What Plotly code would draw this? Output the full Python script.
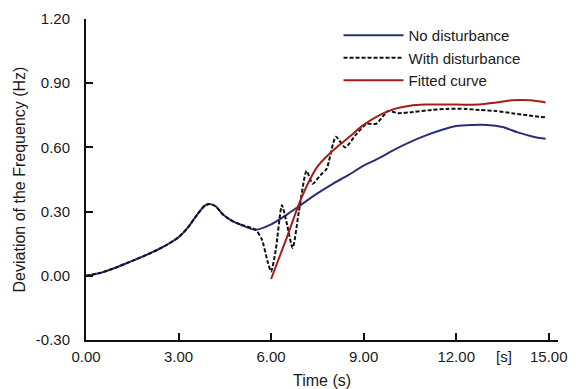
import plotly.graph_objects as go

# No disturbance
t_base = [0, 0.5, 1, 1.5, 2, 2.5, 3, 3.3, 3.6, 3.85, 4.0, 4.2, 4.45, 4.75, 5, 5.5,
          6, 6.5, 7, 7.5, 8, 8.5, 9, 9.5, 10, 10.5, 11, 11.5, 12, 12.5, 13, 13.5,
          14, 14.5, 14.9]
v_base = [0.0, 0.015, 0.04, 0.07, 0.10, 0.135, 0.18, 0.225, 0.285, 0.328, 0.336,
          0.325, 0.285, 0.255, 0.24, 0.215, 0.24, 0.285, 0.335, 0.385, 0.43, 0.47,
          0.515, 0.55, 0.59, 0.625, 0.655, 0.68, 0.70, 0.705, 0.705, 0.695, 0.67,
          0.65, 0.64]

# With disturbance
t_dist = [0, 0.5, 1, 1.5, 2, 2.5, 3, 3.3, 3.6, 3.85, 4.0, 4.2, 4.45, 4.75, 5, 5.5,
          5.7, 5.9, 6.0, 6.15, 6.35, 6.5, 6.7, 6.9, 7.15, 7.35, 7.6, 7.8, 8.1, 8.4,
          8.75, 9.1, 9.4, 9.8, 10.1, 10.6, 11.2, 11.7, 12.3, 12.75, 13.3, 13.8,
          14.3, 14.9]
v_dist = [0.0, 0.015, 0.04, 0.07, 0.10, 0.135, 0.18, 0.225, 0.285, 0.328, 0.336,
          0.325, 0.285, 0.255, 0.24, 0.215, 0.17, 0.06, 0.02, 0.12, 0.33, 0.25,
          0.13, 0.30, 0.49, 0.43, 0.47, 0.50, 0.65, 0.60, 0.66, 0.71, 0.71, 0.77,
          0.76, 0.765, 0.775, 0.78, 0.78, 0.775, 0.77, 0.76, 0.75, 0.74]

# Fitted curve
t_fit = [6.0, 6.5, 7.0, 7.5, 8.0, 8.5, 9.0, 9.5, 10.0, 10.5, 11.0, 12.0, 12.75,
         13.3, 13.8, 14.4, 14.9]
v_fit = [-0.015, 0.175, 0.37, 0.51, 0.585, 0.645, 0.705, 0.75, 0.78, 0.795, 0.80,
         0.80, 0.80, 0.81, 0.82, 0.82, 0.81]

x_ticks = [0, 3, 6, 9, 12, 15]
x_labels = ["0.00", "3.00", "6.00", "9.00", "12.00", "15.00"]
y_ticks = [-0.3, 0, 0.3, 0.6, 0.9, 1.2]
y_labels = ["-0.30", "0.00", "0.30", "0.60", "0.90", "1.20"]

FONT = "Liberation Sans, Arial, sans-serif"

fig = go.Figure()
fig.add_trace(go.Scatter(x=t_base, y=v_base, mode="lines", name="No disturbance",
                         line=dict(color="#2a2f78", width=2, shape="spline", smoothing=0.8)))
fig.add_trace(go.Scatter(x=t_dist, y=v_dist, mode="lines", name="With disturbance",
                         line=dict(color="#111111", width=2, dash="4px,2px",
                                   shape="spline", smoothing=0.6)))
fig.add_trace(go.Scatter(x=t_fit, y=v_fit, mode="lines", name="Fitted curve",
                         line=dict(color="#a51c1c", width=2, shape="spline", smoothing=0.8)))

# page body has an 8px default margin, so the figure is 8px smaller and shifted
fig.update_layout(
    width=573, height=381,
    margin=dict(l=78, r=23, t=11, b=49),
    paper_bgcolor="white", plot_bgcolor="white",
    font=dict(family=FONT, size=15, color="#1a1a1a"),
    showlegend=True,
    legend=dict(x=0.535, y=1.0, xanchor="left", yanchor="top",
                bgcolor="rgba(0,0,0,0)", font=dict(size=15), itemwidth=60,
                tracegroupgap=0),
    xaxis=dict(range=[0, 15.3], tickvals=x_ticks, ticktext=x_labels, automargin=False,
               showgrid=False, zeroline=False, showline=True, linecolor="#111",
               linewidth=2, ticks="inside", ticklen=7, tickwidth=2, tickcolor="#111",
               ticklabelstandoff=2,
               title=dict(text="Time (s)", font=dict(size=16), standoff=16)),
    yaxis=dict(range=[-0.3, 1.2], tickvals=y_ticks, ticktext=y_labels, automargin=False,
               showgrid=False, zeroline=False, showline=True, linecolor="#111",
               linewidth=2, ticks="inside", ticklen=7, tickwidth=2, tickcolor="#111",
               ticklabelstandoff=11,
               title=dict(text="Deviation of the Frequency (Hz)", font=dict(size=16),
                          standoff=6)),
)
fig.add_annotation(x=13.55, y=-0.05, xref="x", yref="paper", text="[s]",
                   showarrow=False, font=dict(size=15), yanchor="middle")

fig.write_html("out.html")
